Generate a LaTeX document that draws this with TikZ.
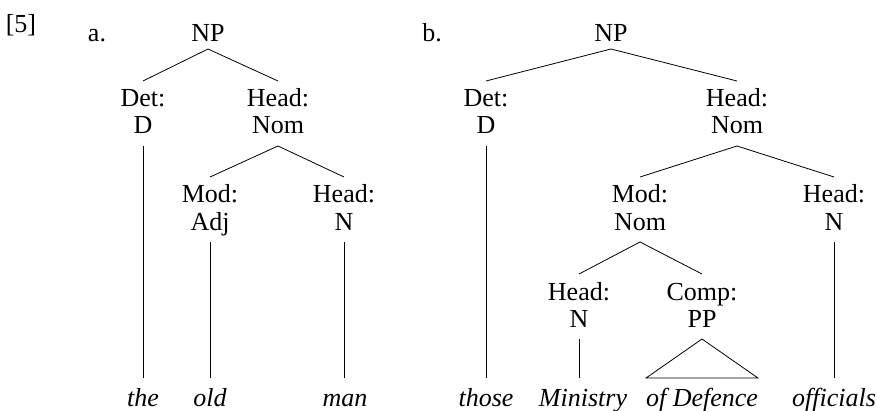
\documentclass[tikz,border=0pt]{standalone}
\usepackage{fontspec}
\setmainfont{Liberation Serif}
\usetikzlibrary{positioning}

\newcommand{\treefont}{\fontsize{13}{15}\selectfont}
\tikzset{
  lbl/.style={inner sep=0pt, text height=9pt, text depth=2.5pt, anchor=base},
  root/.style={lbl, outer sep=1pt},
  fn/.style={lbl, outer sep=4pt},
  cat/.style={lbl, outer sep=3.5pt},
  leaf/.style={lbl, outer sep=5pt, font=\treefont\itshape},
}

\begin{document}
\begin{tikzpicture}[x=0.5pt,y=-0.5pt,font=\treefont]
  \useasboundingbox (0,0) rectangle (877,411);
  \node[lbl] (num) at (21,33) {[5]};
  % tree a
  \node[lbl] (labA) at (97,42) {a.};
  \node[root] (npA) at (208,42) {NP};
  \node[fn] (detA) at (143,107) {Det:};
  \node[cat, below=13.5pt of detA.base, anchor=base] (dA) {D};
  \node[fn] (headA) at (278,107) {Head:};
  \node[cat, below=13.5pt of headA.base, anchor=base] (nomA) {Nom};
  \node[fn] (modA) at (210,203) {Mod:};
  \node[cat, below=13.5pt of modA.base, anchor=base] (adjA) {Adj};
  \node[fn] (headNA) at (344,203) {Head:};
  \node[cat, below=13.5pt of headNA.base, anchor=base] (nA) {N};
  \node[leaf] (the) at (143,406) {the};
  \node[leaf] (old) at (210,406) {old};
  \node[leaf] (man) at (345,406) {man};
  \draw (npA.south) -- (detA.north);
  \draw (npA.south) -- (headA.north);
  \draw (nomA.south) -- (modA.north);
  \draw (nomA.south) -- (headNA.north);
  \draw (dA.south) -- (dA.south |- the.north);
  \draw (adjA.south) -- (adjA.south |- old.north);
  \draw (nA.south) -- (nA.south |- man.north);
  % tree b
  \node[lbl] (labB) at (432,42) {b.};
  \node[root] (npB) at (611,42) {NP};
  \node[fn] (detB) at (486,107) {Det:};
  \node[cat, below=13.5pt of detB.base, anchor=base] (dB) {D};
  \node[fn] (headB) at (737,107) {Head:};
  \node[cat, below=13.5pt of headB.base, anchor=base] (nomB) {Nom};
  \node[fn] (modB) at (640,203) {Mod:};
  \node[cat, below=13.5pt of modB.base, anchor=base] (nomB2) {Nom};
  \node[fn] (headNB) at (834,203) {Head:};
  \node[cat, below=13.5pt of headNB.base, anchor=base] (nB) {N};
  \node[fn] (headMB) at (579,300) {Head:};
  \node[cat, below=13.5pt of headMB.base, anchor=base] (nMB) {N};
  \node[fn] (compB) at (702,300) {Comp:};
  \node[cat, below=13.5pt of compB.base, anchor=base] (ppB) {PP};
  \node[leaf] (those) at (486,406) {those};
  \node[leaf] (ministry) at (583,406) {Ministry};
  \node[leaf] (defence) at (702,406) {of Defence};
  \node[leaf] (officials) at (834,406) {officials};
  \draw (npB.south) -- (detB.north);
  \draw (npB.south) -- (headB.north);
  \draw (nomB.south) -- (modB.north);
  \draw (nomB.south) -- (headNB.north);
  \draw (nomB2.south) -- (headMB.north);
  \draw (nomB2.south) -- (compB.north);
  \draw (dB.south) -- (dB.south |- those.north);
  \draw (nMB.south) -- (nMB.south |- ministry.north);
  \draw (nB.south) -- (nB.south |- officials.north);
  \draw (ppB.south) -- ([xshift=5pt]defence.north west) -- ([xshift=-5pt]defence.north east) -- cycle;
\end{tikzpicture}
\end{document}
